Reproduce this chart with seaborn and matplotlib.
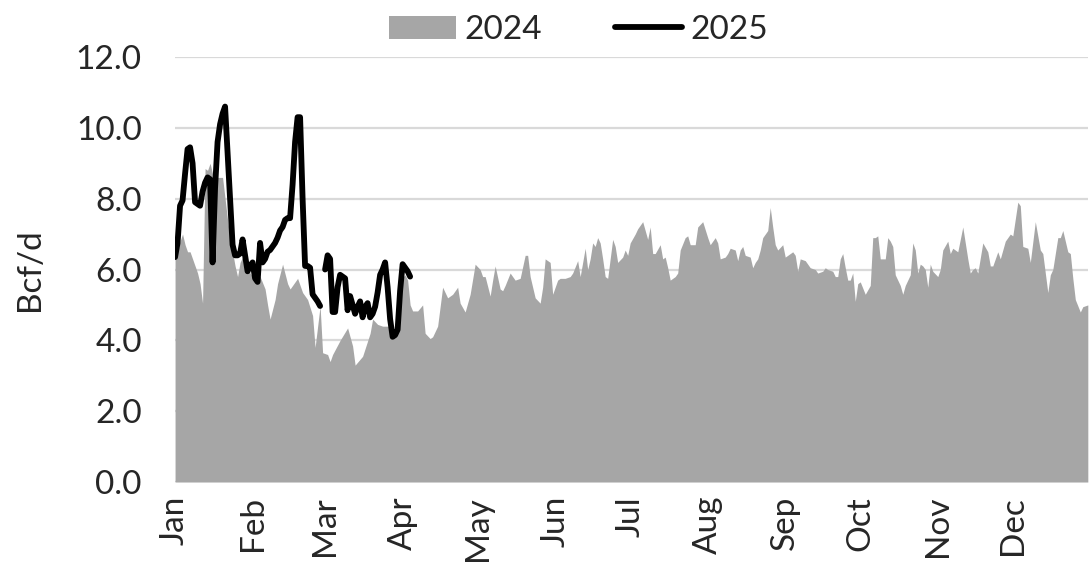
import numpy as np
import pandas as pd
import matplotlib
matplotlib.use('Agg')
import matplotlib.pyplot as plt
import seaborn as sns
from matplotlib.patches import Patch
from matplotlib.lines import Line2D

# month labels on the 2024 calendar axis
months = ['Jan', 'Feb', 'Mar', 'Apr', 'May', 'Jun',
          'Jul', 'Aug', 'Sep', 'Oct', 'Nov', 'Dec']

# 2024 (area) - day of year (0 = Jan 1) and Bcf/d
days_2024 = [0, 1, 2, 3, 4, 5, 6, 7, 8, 9, 10, 11, 12, 13, 14, 15, 16, 17, 18, 19,
             20, 21, 22, 23, 24, 25, 26, 27, 28, 30, 31, 33, 34, 36, 37, 38, 40, 41, 43, 45,
             46, 48, 49, 51, 53, 55, 56, 58, 59, 61, 62, 63, 66, 69, 71, 72, 75, 78, 79, 81,
             83, 86, 87, 88, 89, 90, 92, 93, 94, 95, 97, 99, 100, 102, 103, 105, 107, 109, 111, 113,
             114, 116, 118, 120, 122, 123, 124, 126, 127, 128, 130, 131, 132, 134, 136, 138, 140, 141, 142, 144,
             146, 147, 148, 150, 151, 153, 154, 156, 158, 159, 161, 162, 163, 164, 165, 166, 167, 168, 169, 170,
             171, 172, 173, 175, 176, 177, 179, 180, 181, 182, 184, 185, 187, 189, 190, 191, 192, 194, 195, 196,
             197, 198, 200, 201, 202, 204, 205, 206, 208, 209, 211, 213, 214, 216, 217, 218, 220, 221, 222, 224,
             225, 226, 227, 228, 230, 231, 232, 233, 234, 235, 237, 238, 239, 240, 241, 243, 244, 245, 247, 248,
             249, 250, 252, 254, 256, 257, 259, 260, 261, 263, 264, 265, 266, 267, 268, 269, 270, 271, 272, 273,
             274, 276, 278, 279, 280, 281, 282, 284, 285, 286, 287, 288, 290, 291, 292, 294, 295, 296, 297, 298,
             299, 300, 301, 302, 303, 305, 306, 307, 309, 310, 311, 313, 315, 317, 318, 319, 320, 321, 323, 325,
             326, 327, 329, 330, 332, 334, 335, 337, 338, 339, 341, 342, 344, 346, 347, 349, 350, 351, 353, 354,
             355, 356, 357, 358, 359, 360, 362, 363, 365]
flow_2024 = [6.3, 6.5, 6.8, 7.0, 6.7, 6.5, 6.5, 6.3, 6.1, 5.9, 5.6, 5.05, 8.85, 8.8, 9.0, 8.7, 8.6, 8.6, 8.6, 8.6,
             8.0, 7.4, 6.9, 6.5, 6.1, 5.8, 6.2, 6.35, 6.4, 5.9, 5.8, 5.8, 5.8, 5.45, 5.0, 4.6, 5.15, 5.6, 6.15, 5.6,
             5.45, 5.65, 5.75, 5.35, 5.15, 4.7, 3.8, 4.97, 3.65, 3.6, 3.4, 3.6, 4.0, 4.35, 3.84, 3.3, 3.55, 4.2, 4.6, 4.45,
             4.4, 4.4, 4.3, 4.3, 5.0, 5.7, 5.85, 5.7, 5.0, 4.83, 4.83, 5.0, 4.2, 4.05, 4.1, 4.4, 5.5, 5.2, 5.3, 5.5,
             5.05, 4.8, 5.3, 6.15, 6.0, 5.8, 5.8, 5.25, 5.7, 6.1, 5.45, 5.4, 5.55, 5.9, 5.7, 5.75, 6.4, 6.4, 5.8, 5.2,
             5.05, 5.5, 6.3, 6.2, 5.3, 5.7, 5.75, 5.75, 5.8, 5.9, 6.25, 5.8, 6.2, 6.6, 6.0, 6.3, 6.75, 6.65, 6.9, 6.75,
             6.3, 5.8, 5.75, 6.85, 6.65, 6.2, 6.35, 6.55, 6.4, 6.75, 7.0, 7.15, 7.35, 6.85, 7.2, 6.45, 6.45, 6.7, 6.3, 6.35,
             6.05, 5.7, 5.8, 5.9, 6.55, 6.9, 6.95, 6.7, 6.7, 7.2, 7.35, 6.9, 6.7, 6.9, 6.75, 6.3, 6.35, 6.45, 6.6, 6.55,
             6.25, 6.55, 6.65, 6.4, 6.35, 6.05, 6.2, 6.3, 6.55, 6.9, 7.1, 7.75, 7.2, 6.7, 6.55, 6.7, 6.35, 6.4, 6.5, 6.4,
             5.95, 6.3, 6.25, 6.05, 6.0, 5.9, 5.95, 6.05, 6.0, 5.95, 5.8, 5.8, 6.3, 6.45, 6.05, 5.7, 5.7, 5.9, 5.1, 5.6,
             5.65, 5.3, 5.55, 6.9, 6.9, 6.95, 6.3, 6.3, 6.9, 6.8, 6.65, 5.85, 5.55, 5.3, 5.55, 5.85, 6.75, 6.55, 5.9, 6.15,
             6.1, 6.0, 5.5, 6.15, 5.95, 5.8, 6.0, 6.55, 6.8, 6.45, 6.6, 6.5, 7.2, 6.3, 5.9, 6.0, 6.05, 5.9, 6.75, 6.5,
             6.1, 6.1, 6.5, 6.3, 6.8, 7.0, 6.95, 7.9, 7.8, 6.65, 6.6, 6.2, 7.35, 6.55, 6.45, 5.35, 5.85, 6.0, 6.9, 6.9,
             7.1, 6.8, 6.5, 6.45, 5.75, 5.15, 4.8, 4.95, 5.0]

# 2025 (line) on the same calendar; no value on Feb 29 (day 59)
days_2025 = list(range(0, 59)) + list(range(60, 95))
flow_2025 = [6.35, 6.75, 7.8, 7.95, 8.7, 9.4, 9.45, 9.0, 7.9, 7.85, 7.8, 8.2, 8.45, 8.6, 8.55, 6.2, 8.3, 9.6, 10.1, 10.4,
             10.6, 9.3, 8.0, 6.7, 6.4, 6.4, 6.45, 6.85, 6.4, 5.95, 6.1, 6.2, 5.75, 5.65, 6.75, 6.2, 6.3, 6.5, 6.55, 6.65,
             6.75, 6.9, 7.1, 7.2, 7.4, 7.45, 7.45, 8.4, 9.6, 10.3, 10.3, 8.0, 6.1, 6.1, 6.05, 5.3, 5.2, 5.1, 4.97,
             6.0, 6.4, 6.3, 4.8, 4.8, 5.5, 5.85, 5.8, 5.75, 4.85, 5.25, 5.0, 4.75, 4.95, 5.1, 4.65, 4.95, 5.05, 4.65, 4.75,
             4.95, 5.35, 5.85, 6.0, 6.2, 5.5, 4.6, 4.1, 4.15, 4.3, 5.4, 6.15, 6.05, 5.95, 5.8]

area_color = '#a6a6a6'
grid_color = '#d9d9d9'

sns.set_style('white')
plt.rcParams['font.family'] = ['Lato', 'DejaVu Sans']

fig, ax = plt.subplots(figsize=(10.9, 5.75), dpi=100)
fig.subplots_adjust(left=0.1606, right=0.998, bottom=0.1617, top=0.9009)

ax.fill_between(days_2024, flow_2024, 0, color=area_color, lw=0, zorder=2)

df25 = pd.DataFrame({'day': days_2025, 'flow': flow_2025})
df25['segment'] = (df25['day'] > 59).astype(int)   # break the line at Feb 29
sns.lineplot(data=df25, x='day', y='flow', units='segment', estimator=None,
             color='black', lw=4.2, solid_capstyle='round', solid_joinstyle='round',
             ax=ax, zorder=3)

month_starts = pd.date_range('2024-01-01', periods=12, freq='MS').dayofyear - 1
ax.set_xticks(month_starts)
ax.set_xticklabels(months, rotation=90, fontsize=24)
ax.set_xlim(0, 365)

ax.set_ylim(0, 12)
ax.set_yticks(np.arange(0, 12.1, 2))
ax.set_yticklabels([f'{v:.1f}' for v in np.arange(0, 12.1, 2)], fontsize=24)
ax.tick_params(axis='both', length=0)
ax.tick_params(axis='y', pad=24)
ax.tick_params(axis='x', pad=10)

ax.set_xlabel('')
ax.set_ylabel('Bcf/d', fontsize=24, labelpad=22)

ax.yaxis.grid(True, color=grid_color, lw=1.6)
ax.xaxis.grid(False)
ax.set_axisbelow(True)
for s in ax.spines.values():
    s.set_visible(False)

handles = [Patch(facecolor=area_color, edgecolor='none'),
           Line2D([0], [0], color='black', lw=4.2)]
fig.legend(handles, ['2024', '2025'], loc='center', bbox_to_anchor=(0.531, 0.948),
           ncol=2, frameon=False, fontsize=24, handlelength=2.0, handletextpad=0.25,
           columnspacing=2.2)

fig.savefig('out.png', dpi=100)
